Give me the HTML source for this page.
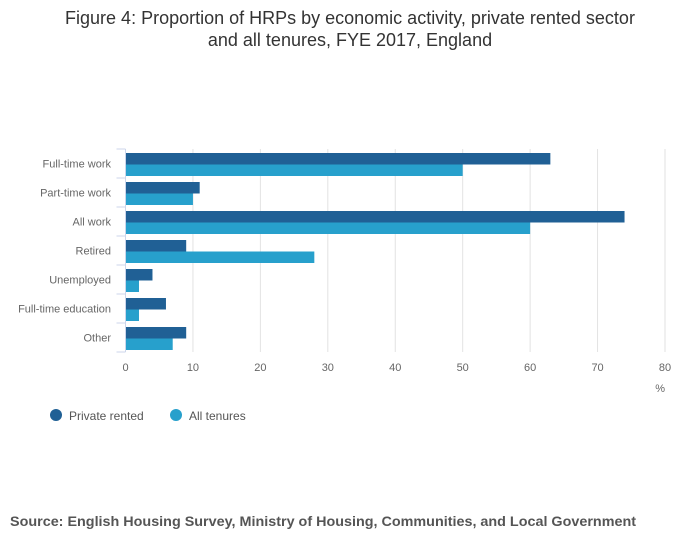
<!DOCTYPE html>
<html><head><meta charset="utf-8"><style>
body{margin:0;background:#fff;font-family:"Liberation Sans",sans-serif;}
#wrap{position:relative;width:700px;height:549px;overflow:hidden}
</style></head><body>
<div id="wrap">
<svg id="chart" width="700" height="549">
<text x="350" y="24" text-anchor="middle" font-size="18" fill="#333">Figure 4: Proportion of HRPs by economic activity, private rented sector</text>
<text x="350" y="46" text-anchor="middle" font-size="18" fill="#333">and all tenures, FYE 2017, England</text>
<g id="grid"></g><g id="bars"></g><g id="axes"></g>
<text x="665" y="392" text-anchor="end" font-size="11" fill="#666">%</text>
<g>
<circle cx="56" cy="415" r="6" fill="#206095"/>
<text x="69" y="420" font-size="12" fill="#555">Private rented</text>
<circle cx="176" cy="415" r="6" fill="#27a0cc"/>
<text x="189" y="420" font-size="12" fill="#555">All tenures</text>
</g>
<text x="10" y="526" font-size="14" font-weight="bold" fill="#555" textLength="626" lengthAdjust="spacingAndGlyphs">Source: English Housing Survey, Ministry of Housing, Communities, and Local Government</text>
</svg></div>
<script>
const categories=["Full-time work","Part-time work","All work","Retired","Unemployed","Full-time education","Other"];
const privateRented=[63,11,74,9,4,6,9];
const allTenures=[50,10,60,28,2,2,7];
const xTicks=[0,10,20,30,40,50,60,70,80];
const NS="http://www.w3.org/2000/svg";
const x0=125.5,x1=665,yTop=149,rowH=29,xMax=80;
const xs=v=>x0+(x1-x0)*v/xMax;
const ys=i=>yTop+i*rowH;
function mk(t,a,p){const e=document.createElementNS(NS,t);for(const k in a)e.setAttribute(k,a[k]);p.appendChild(e);return e;}
const grid=document.getElementById('grid'),bars=document.getElementById('bars'),axes=document.getElementById('axes');
const bottom=ys(categories.length);
xTicks.forEach(t=>{
  if(t>0){const g=mk('line',{x1:xs(t),x2:xs(t),y1:yTop,y2:bottom,stroke:'#e2e2e2','stroke-width':1},grid);
  
  }
  const l=mk('text',{x:xs(t),y:bottom+19,'text-anchor':'middle','font-size':11,fill:'#666'},axes);
  l.textContent=t;
  
  
});
const ax=mk('line',{x1:x0,x2:x0,y1:yTop,y2:bottom,stroke:'#ccd6eb','stroke-width':1},axes);


for(let i=0;i<=categories.length;i++){
  const tk=mk('line',{x1:x0-9,x2:x0,y1:ys(i),y2:ys(i),stroke:'#ccd6eb','stroke-width':1},axes);
  
  
}
categories.forEach((c,i)=>{
  const y=ys(i);
  const b1=mk('rect',{x:x0,y:y+4,width:xs(privateRented[i])-x0,height:11.5,fill:'#206095'},bars);
  
  
  const b2=mk('rect',{x:x0,y:y+15.5,width:xs(allTenures[i])-x0,height:11.5,fill:'#27a0cc'},bars);
  
  
  const l=mk('text',{x:111,y:y+rowH/2+4,'text-anchor':'end','font-size':11,fill:'#666'},axes);
  l.textContent=c;
  
  
});
</script>
</body></html>
